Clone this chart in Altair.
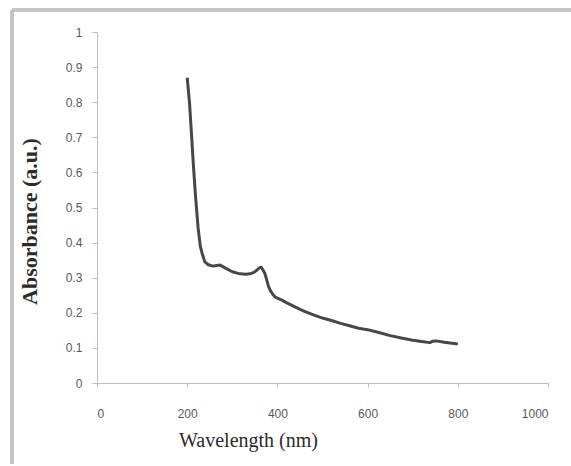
import altair as alt
import pandas as pd

# UV-Vis absorbance spectrum
wavelength = [200, 205, 210, 213, 218, 224, 229, 233, 239, 247, 257, 265, 273, 280,
              288, 300, 317, 330, 339, 348, 355, 360, 364, 368, 372, 376, 380, 385,
              390, 395, 400, 410, 420, 440, 460, 480, 500, 520, 540, 560, 580, 600,
              627, 650, 675, 700, 720, 738, 745, 752, 770, 800]
absorbance = [0.870, 0.800, 0.700, 0.635, 0.540, 0.444, 0.390, 0.370, 0.345, 0.337,
              0.333, 0.335, 0.336, 0.331, 0.325, 0.317, 0.311, 0.310, 0.311, 0.315,
              0.322, 0.328, 0.330, 0.322, 0.313, 0.295, 0.276, 0.262, 0.252, 0.245,
              0.242, 0.236, 0.229, 0.216, 0.204, 0.194, 0.185, 0.178, 0.170, 0.163,
              0.156, 0.152, 0.143, 0.135, 0.128, 0.122, 0.118, 0.115, 0.119, 0.120,
              0.116, 0.111]

x_ticks = [0, 200, 400, 600, 800, 1000]
y_ticks = [0, 0.1, 0.2, 0.3, 0.4, 0.5, 0.6, 0.7, 0.8, 0.9, 1]

df = pd.DataFrame({"wavelength": wavelength, "absorbance": absorbance})

W, H = 451, 351
PAD_L, PAD_T, PAD_R, PAD_B = 97, 32, 23, 83

spectrum = alt.Chart(df).mark_line(color="#474747", strokeWidth=3, strokeJoin="round").encode(
    x=alt.X("wavelength:Q",
            scale=alt.Scale(domain=[0, 1000], nice=False),
            axis=alt.Axis(values=x_ticks, format="d", title="Wavelength (nm)",
                          titleFont="Liberation Serif", titleFontSize=20,
                          titleFontWeight="normal", titleColor="#2b2b2b",
                          titleX=151, titleY=47, titleAlign="center",
                          labelPadding=21, tickSize=4)),
    y=alt.Y("absorbance:Q",
            scale=alt.Scale(domain=[0, 1], nice=False),
            axis=alt.Axis(values=y_ticks, format="~g", title="Absorbance (a.u.)",
                          titleFont="Liberation Serif", titleFontSize=22,
                          titleFontWeight="bold", titleColor="#2b2b2b",
                          titleY=189, titleAlign="center", titlePadding=24,
                          labelPadding=10, tickSize=5)),
)

# chart-area frame (top and left edges)
frame_top = alt.Chart(df).mark_rule(color="#c4c4c4", strokeWidth=3).encode(
    x=alt.value(-PAD_L + 12), x2=alt.value(W + PAD_R), y=alt.value(-PAD_T + 10)
)
frame_left = alt.Chart(df).mark_rule(color="#c4c4c4", strokeWidth=3).encode(
    x=alt.value(-PAD_L + 12), y=alt.value(-PAD_T + 10), y2=alt.value(H + PAD_B - 2)
)

chart = (spectrum + frame_top + frame_left).properties(
    width=W, height=H,
    autosize=alt.AutoSizeParams(type="none"),
    padding={"left": PAD_L, "top": PAD_T, "right": PAD_R, "bottom": PAD_B},
    background="white",
).configure_view(stroke=None).configure_axis(
    grid=False,
    domainColor="#bdbdbd", tickColor="#bdbdbd",
    labelFont="Liberation Sans", labelFontSize=12, labelColor="#5a5a5a",
)

chart.save("out.html", embed_options={"renderer": "svg", "actions": False})
